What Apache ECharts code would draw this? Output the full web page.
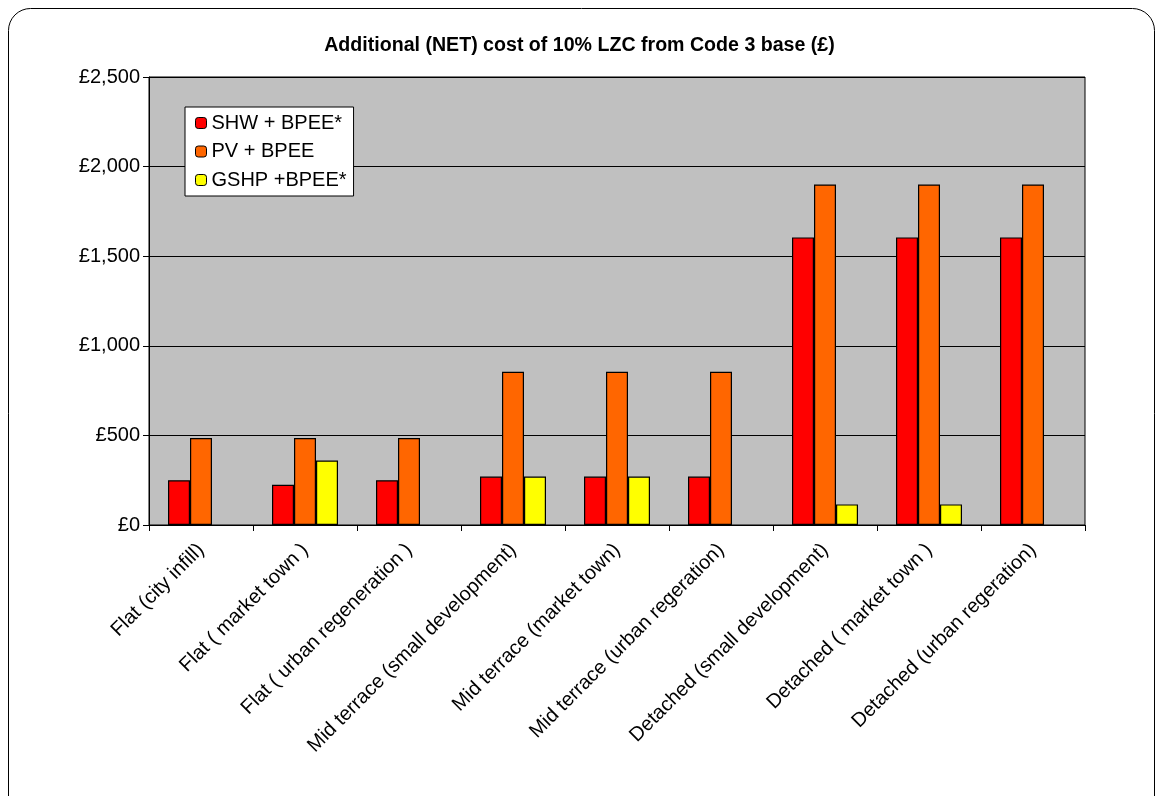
<!DOCTYPE html>
<html>
<head>
<meta charset="utf-8">
<script src="https://cdn.jsdelivr.net/npm/echarts@6/dist/echarts.min.js"></script>
<style>
  html, body { margin: 0; padding: 0; background: #fff; }
  #chart { width: 1159px; height: 796px; }
</style>
</head>
<body>
<div id="chart"></div>
<script>
var categories = [
  "Flat (city infill)", "Flat ( market town )", "Flat ( urban regeneration )",
  "Mid terrace (small development)", "Mid terrace (market town)", "Mid terrace (urban regeration)",
  "Detached (small development)", "Detached ( market town )", "Detached (urban regeration)"
];
var shwValues = [250, 225, 250, 270, 270, 270, 1605, 1605, 1605];
var pvValues = [485, 485, 485, 855, 855, 855, 1900, 1900, 1900];
var gshpValues = [null, 360, null, 270, 270, null, 115, 115, null];
var seriesNames = ["SHW + BPEE*", "PV + BPEE", "GSHP +BPEE*"];
var seriesColors = ["#FF0000", "#FF6600", "#FFFF00"];

var myChart = echarts.init(document.getElementById("chart"));
var fontName = 'Liberation Sans, Arial, sans-serif';

function makeBar(name, data, color) {
  return {
    name: name,
    type: 'bar',
    data: data,
    barWidth: 22,
    barGap: '0%',
    itemStyle: { color: color, borderColor: '#000', borderWidth: 1.2 },
    emphasis: { disabled: true }
  };
}

var option = {
  animation: false,
  textStyle: { fontFamily: fontName },
  title: {
    text: 'Additional (NET) cost of 10% LZC from Code 3 base (£)',
    left: 'center',
    top: 31,
    textStyle: { fontSize: 19.6, fontWeight: 'bold', color: '#000', fontFamily: fontName }
  },
  graphic: [{
    type: 'rect',
    shape: { x: 8.5, y: 8.5, width: 1146, height: 830, r: 22 },
    style: { fill: 'none', stroke: '#000', lineWidth: 1 },
    z: -1
  }],
  legend: {
    orient: 'vertical',
    left: 185,
    top: 107,
    data: seriesNames,
    itemWidth: 11,
    itemHeight: 11,
    itemGap: 8.5,
    padding: [6, 7, 6, 10],
    backgroundColor: '#fff',
    borderColor: '#000',
    borderWidth: 1,
    borderRadius: 0,
    textStyle: { fontSize: 20, color: '#000', fontFamily: fontName },
    itemStyle: { borderColor: '#000', borderWidth: 1 }
  },
  grid: {
    left: 149,
    right: 74,
    top: 77,
    bottom: 271,
    show: true,
    backgroundColor: '#C0C0C0',
    borderColor: '#000',
    borderWidth: 1
  },
  xAxis: {
    type: 'category',
    data: categories,
    axisLine: { lineStyle: { color: '#000' } },
    axisTick: { show: true, alignWithLabel: false, length: 6, lineStyle: { color: '#000' } },
    axisLabel: { rotate: 45, interval: 0, fontSize: 20, color: '#000', margin: 22 }
  },
  yAxis: {
    type: 'value',
    min: 0,
    max: 2500,
    interval: 500,
    axisLine: { show: true, lineStyle: { color: '#000' } },
    axisTick: { show: true, length: 6, lineStyle: { color: '#000' } },
    splitLine: { show: true, lineStyle: { color: '#000', width: 1 } },
    axisLabel: {
      fontSize: 20,
      color: '#000',
      margin: 9,
      formatter: function(v) {
        return '£' + v.toString().replace(/\B(?=(\d{3})+(?!\d))/g, ',');
      }
    }
  },
  series: [
    makeBar(seriesNames[0], shwValues, seriesColors[0]),
    makeBar(seriesNames[1], pvValues, seriesColors[1]),
    makeBar(seriesNames[2], gshpValues, seriesColors[2])
  ]
};

myChart.setOption(option);
</script>
</body>
</html>
